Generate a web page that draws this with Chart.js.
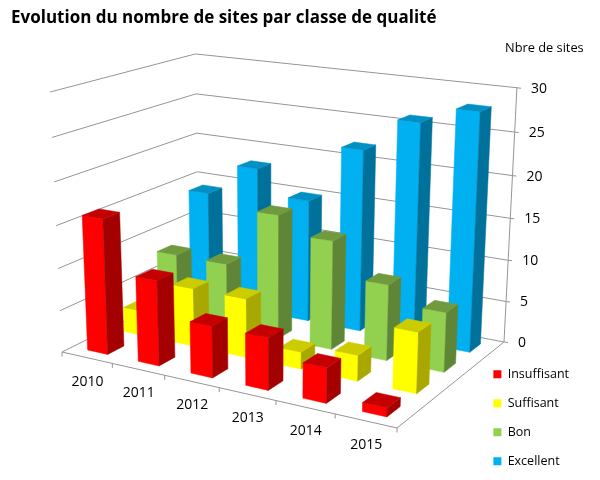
<!DOCTYPE html>
<html>
<head>
<meta charset="utf-8">
<style>
  html, body { margin: 0; padding: 0; background: #fff; }
  canvas { display: block; }
</style>
<script src="https://cdn.jsdelivr.net/npm/chart.js@4"></script>
</head>
<body>
<canvas id="chart" width="600" height="480"></canvas>
<script>
// ── Data ──────────────────────────────────────────────────────────────
const years       = ['2010', '2011', '2012', '2013', '2014', '2015'];
const insuffisant = [16, 10, 6, 6, 4, 1];
const suffisant   = [3, 7, 7, 2, 3, 7];
const bon         = [8, 8, 15, 13, 9, 7];
const excellent   = [14, 18, 15, 22, 26, 28];
const yTicks      = { min: 0, max: 30, stepSize: 5 };
const yTitle      = 'Nbre de sites';

const FONT = '"Open Sans", sans-serif';
const GRID = '#959595';

// ── Projection: unit cube (u along years, v along series, w up) to canvas ──
const FLOOR = { a: [62, 352], b: [397, 428], c: [504, 342], d: [199, 284] };
const VANISH = [272, 4906];   // vertical lines converge way below the chart
const KAPPA  = -0.054;

const floorH = (() => {
    const { a, b, c, d } = FLOOR;
    const dx1 = b[0] - c[0], dx2 = d[0] - c[0], sx = a[0] - b[0] + c[0] - d[0];
    const dy1 = b[1] - c[1], dy2 = d[1] - c[1], sy = a[1] - b[1] + c[1] - d[1];
    const det = dx1 * dy2 - dx2 * dy1;
    const g = (sx * dy2 - dx2 * sy) / det;
    const h = (dx1 * sy - sx * dy1) / det;
    return {
        g, h,
        a: b[0] - a[0] + g * b[0], b: d[0] - a[0] + h * d[0], c: a[0],
        d: b[1] - a[1] + g * b[1], e: d[1] - a[1] + h * d[1], f: a[1],
    };
})();

function project(u, v, w) {
    const H = floorH;
    const W = H.g * u + H.h * v + 1 + w * KAPPA;
    return [
        (H.a * u + H.b * v + H.c + w * KAPPA * VANISH[0]) / W,
        (H.d * u + H.e * v + H.f + w * KAPPA * VANISH[1]) / W,
    ];
}

function line(ctx, p, q, color) {
    ctx.strokeStyle = color;
    ctx.lineWidth = 1;
    ctx.beginPath();
    ctx.moveTo(p[0], p[1]);
    ctx.lineTo(q[0], q[1]);
    ctx.stroke();
}

function face(ctx, pts, color) {
    ctx.fillStyle = color;
    ctx.strokeStyle = color;
    ctx.lineWidth = 0.5;
    ctx.beginPath();
    pts.forEach((p, i) => i ? ctx.lineTo(p[0], p[1]) : ctx.moveTo(p[0], p[1]));
    ctx.closePath();
    ctx.fill();
    ctx.stroke();
}

const BAR_DEPTH = 0.44;   // share of a series slot taken by the bar

// ── Plugin: walls, axes and boxes, using the bar elements Chart.js computed ──
const perspective = {
    id: 'perspective',
    beforeDatasetsDraw(chart) {
        const { ctx, scales: { x, y } } = chart;
        const wOf = px => (y.bottom - px) / (y.bottom - y.top);
        const uOf = px => (px - x.left) / (x.right - x.left);

        // walls + value axis
        y.ticks.forEach(t => {
            const w = wOf(y.getPixelForValue(t.value));
            const front = project(0, 0, w), corner = project(0, 1, w), end = project(1, 1, w);
            line(ctx, front, corner, GRID);
            line(ctx, corner, end, GRID);
            line(ctx, end, [end[0] + 4, end[1] + 0.5], GRID);
            ctx.fillStyle = '#000';
            ctx.font = '14px ' + FONT;
            ctx.textAlign = 'left';
            ctx.textBaseline = 'middle';
            ctx.fillText(t.label, end[0] + 14, end[1] + 1);
        });
        line(ctx, project(1, 1, 0), project(1, 1, 1), GRID);

        // floor edges + category axis
        line(ctx, project(0, 0, 0), project(1, 0, 0), GRID);
        line(ctx, project(1, 0, 0), project(1, 1, 0), GRID);
        const n = x.getLabels().length;
        for (let i = 0; i <= n; i++) {
            const p = project(i / n, 0, 0);
            line(ctx, p, [p[0], p[1] + 4.5], GRID);
        }
        x.getLabels().forEach((lab, i) => {
            const p = project(uOf(x.getPixelForValue(i)), 0, 0);
            ctx.fillStyle = '#000';
            ctx.font = '14px ' + FONT;
            ctx.textAlign = 'center';
            ctx.textBaseline = 'middle';
            ctx.fillText(lab, p[0] + 0.5, p[1] + 24);
        });

        ctx.fillStyle = '#000';
        ctx.font = '12.8px ' + FONT;
        ctx.textAlign = 'left';
        ctx.textBaseline = 'middle';
        ctx.fillText(yTitle, 505, 48);

        // boxes, back row first, left to right
        const rows = chart.data.datasets.length;
        for (let r = rows - 1; r >= 0; r--) {
            const ds = chart.data.datasets[r];
            const v0 = (r + 0.5 - BAR_DEPTH / 2) / rows;
            const v1 = (r + 0.5 + BAR_DEPTH / 2) / rows;
            chart.getDatasetMeta(r).data.forEach(el => {
                const u0 = uOf(el.x - el.width / 2), u1 = uOf(el.x + el.width / 2);
                const w = wOf(el.y);
                face(ctx, [project(u0, v0, 0), project(u1, v0, 0), project(u1, v0, w), project(u0, v0, w)], ds.backgroundColor);
                face(ctx, [project(u1, v0, 0), project(u1, v1, 0), project(u1, v1, w), project(u1, v0, w)], ds.sideColor);
                face(ctx, [project(u0, v0, w), project(u1, v0, w), project(u1, v1, w), project(u0, v1, w)], ds.topColor);
            });
        }
        return false;   // skip the flat bars
    },
};

// ── Chart ─────────────────────────────────────────────────────────────
new Chart(document.getElementById('chart'), {
    type: 'bar',
    plugins: [perspective],
    data: {
        labels: years,
        datasets: [
            { label: 'Insuffisant', data: insuffisant, backgroundColor: '#ff0000', sideColor: '#a50000', topColor: '#c40000' },
            { label: 'Suffisant',   data: suffisant,   backgroundColor: '#ffff00', sideColor: '#a8a800', topColor: '#cccc00' },
            { label: 'Bon',         data: bon,         backgroundColor: '#92d050', sideColor: '#5f8637', topColor: '#6f9b3e' },
            { label: 'Excellent',   data: excellent,   backgroundColor: '#00b0f0', sideColor: '#00719b', topColor: '#0090c4' },
        ],
    },
    options: {
        responsive: false,
        animation: false,
        layout: { padding: { right: 21, bottom: -4, left: 11, top: 8 } },
        datasets: { bar: { grouped: false, barPercentage: 0.40, categoryPercentage: 1 } },
        plugins: {
            title: {
                display: true,
                text: 'Evolution du nombre de sites par classe de qualité',
                align: 'start',
                color: '#000',
                font: { family: FONT, size: 17, weight: 'bold' },
                padding: { top: 0, bottom: 0 },
            },
            legend: {
                position: 'right',
                align: 'end',
                labels: {
                    color: '#000',
                    font: { family: FONT, size: 12.5 },
                    boxWidth: 8,
                    boxHeight: 8,
                    padding: 16.5,
                },
            },
            tooltip: { enabled: false },
        },
        scales: {
            x: { display: false },
            y: { display: false, min: yTicks.min, max: yTicks.max, ticks: { stepSize: yTicks.stepSize } },
        },
    },
});
</script>
</body>
</html>
